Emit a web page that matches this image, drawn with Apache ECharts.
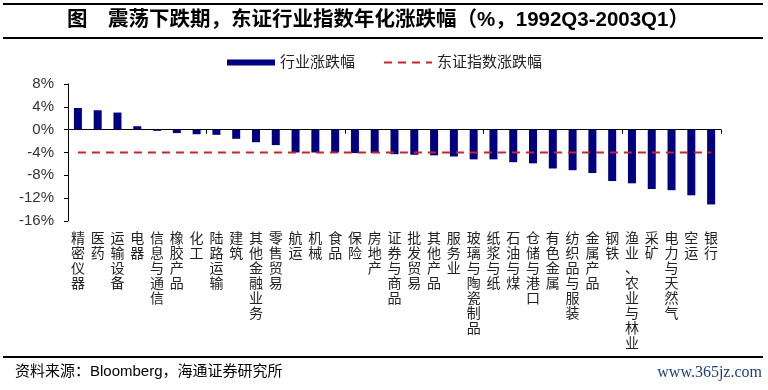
<!DOCTYPE html>
<html>
<head>
<meta charset="utf-8">
<script src="https://cdn.jsdelivr.net/npm/echarts@6/dist/echarts.min.js"></script>
<style>
html,body{margin:0;padding:0;background:#fff;}
#chart{width:768px;height:390px;}
</style>
</head>
<body>
<div id="chart"></div>
<script>
const categories = ['精密仪器','医药','运输设备','电器','信息与通信','橡胶产品','化工','陆路运输','建筑','其他金融业务','零售贸易','航运','机械','食品','保险','房地产','证券与商品','批发贸易','其他产品','服务业','玻璃与陶瓷制品','纸浆与纸','石油与煤','仓储与港口','有色金属','纺织品与服装','金属产品','钢铁','渔业、农业与林业','采矿','电力与天然气','空运','银行'];
const industryReturn = [3.8,3.4,3.0,0.6,-0.2,-0.6,-0.8,-0.9,-1.6,-2.2,-2.7,-4.0,-4.0,-4.0,-4.1,-4.1,-4.3,-4.4,-4.5,-4.7,-5.2,-5.2,-5.7,-5.9,-6.8,-7.1,-7.6,-9.0,-9.4,-10.4,-10.6,-11.5,-13.1];
const indexReturn = [-4.0,-4.0,-4.0,-4.0,-4.0,-4.0,-4.0,-4.0,-4.0,-4.0,-4.0,-4.0,-4.0,-4.0,-4.0,-4.0,-4.0,-4.0,-4.0,-4.0,-4.0,-4.0,-4.0,-4.0,-4.0,-4.0,-4.0,-4.0,-4.0,-4.0,-4.0,-4.0,-4.0];
const yTicks = {min:-16, max:8, interval:4};
const seriesNames = ['行业涨跌幅','东证指数涨跌幅'];
const titleText = '图　震荡下跌期，东证行业指数年化涨跌幅（%，1992Q3-2003Q1）';
const sourceText = '资料来源：Bloomberg，海通证券研究所';
const watermark = 'www.365jz.com';

const chart = echarts.init(document.getElementById('chart'), null, {renderer:'canvas'});
const cjk = '"Liberation Sans", "Noto Sans CJK SC", sans-serif';
chart.setOption({
  animation:false,
  backgroundColor:'#fff',
  title:{
    text:titleText, left:67, top:10, padding:0,
    textStyle:{fontFamily:cjk, fontWeight:'bold', fontSize:20.5, color:'#000'}
  },
  legend:{
    left:227, top:55, padding:0, itemGap:28, itemWidth:48, itemHeight:6,
    textStyle:{fontFamily:cjk, fontSize:15, color:'#222'},
    data:[
      {name:seriesNames[0], icon:'rect'},
      {name:seriesNames[1], itemStyle:{color:'rgba(0,0,0,0)', borderWidth:0, opacity:0}}
    ]
  },
  grid:{left:68, right:47, top:84, bottom:169, containLabel:false},
  xAxis:[{
    type:'category', data:categories,
    axisLine:{onZero:true, lineStyle:{color:'#000', width:1}},
    axisTick:{show:true, length:4, inside:false, lineStyle:{color:'#000'}},
    axisLabel:{show:false}
  },{
    type:'category', data:categories, position:'bottom',
    axisLine:{show:false, onZero:false}, axisTick:{show:false},
    axisLabel:{
      show:true, interval:0, margin:11,
      fontFamily:cjk, fontSize:14, lineHeight:15, color:'#222',
      verticalAlign:'top',
      formatter:function(v){return v.split('').join('\n');}
    }
  }],
  yAxis:{
    type:'value', min:yTicks.min, max:yTicks.max, interval:yTicks.interval,
    axisLine:{show:true, lineStyle:{color:'#000'}},
    axisTick:{show:true, length:4, lineStyle:{color:'#000'}},
    splitLine:{show:false},
    axisLabel:{formatter:'{value}%', fontFamily:'"Liberation Sans", Arial, sans-serif', fontSize:15, color:'#333', margin:14}
  },
  series:[{
    name:seriesNames[0], type:'bar', data:industryReturn, barWidth:8,
    itemStyle:{color:'#000080'}, xAxisIndex:0
  },{
    name:seriesNames[1], type:'line', data:indexReturn, xAxisIndex:0,
    symbol:'none', lineStyle:{color:'#c3262b', width:2, type:[8,6]},
    itemStyle:{color:'#c3262b'}
  }],
  graphic:[
    {type:'line', shape:{x1:3,y1:4,x2:763,y2:4}, style:{stroke:'#000', lineWidth:2}},
    {type:'line', shape:{x1:3,y1:38,x2:763,y2:38}, style:{stroke:'#000', lineWidth:2}},
    {type:'line', shape:{x1:3,y1:357,x2:763,y2:357}, style:{stroke:'#000', lineWidth:2}},
    {type:'text', left:15, top:364, style:{text:sourceText, font:'15px "Liberation Sans", "Noto Sans CJK SC", sans-serif', fill:'#000'}},
    {type:'text', right:6, top:365, style:{text:watermark, font:'16px "Liberation Serif", serif', fill:'#1c3f7a'}}
  ]
});
</script>
</body>
</html>
